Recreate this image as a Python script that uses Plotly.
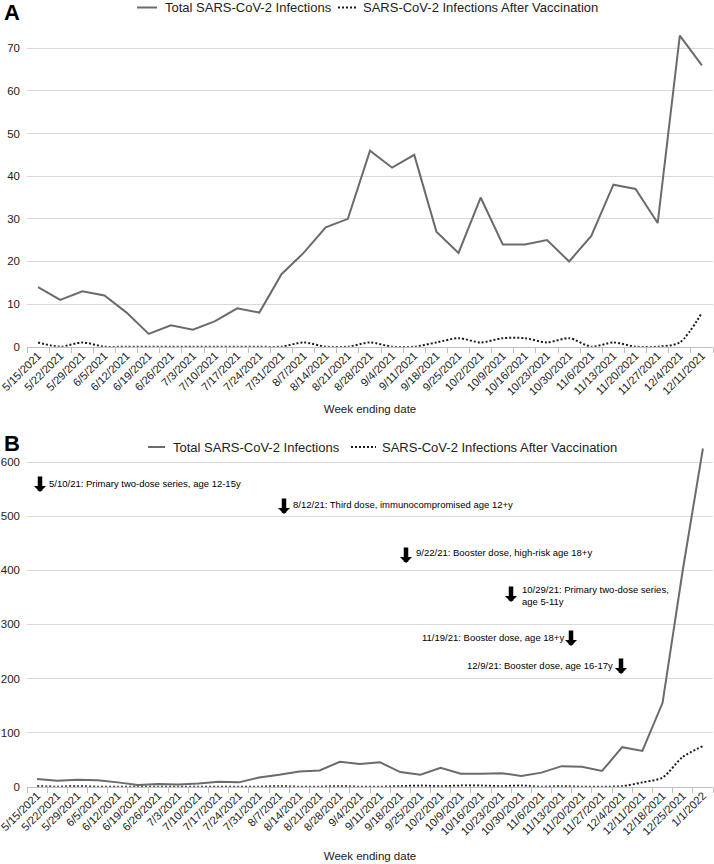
import plotly.graph_objects as go

# ---------------- data ----------------
weeks_a = ["5/15/2021", "5/22/2021", "5/29/2021", "6/5/2021", "6/12/2021", "6/19/2021",
           "6/26/2021", "7/3/2021", "7/10/2021", "7/17/2021", "7/24/2021", "7/31/2021",
           "8/7/2021", "8/14/2021", "8/21/2021", "8/28/2021", "9/4/2021", "9/11/2021",
           "9/18/2021", "9/25/2021", "10/2/2021", "10/9/2021", "10/16/2021", "10/23/2021",
           "10/30/2021", "11/6/2021", "11/13/2021", "11/20/2021", "11/27/2021", "12/4/2021",
           "12/11/2021"]
total_a = [14, 11, 13, 12, 8, 3, 5, 4, 6, 9, 8, 17, 22, 28, 30, 46, 42, 45, 27, 22, 35,
           24, 24, 25, 20, 26, 38, 37, 29, 73, 66]
vacc_a = [1, 0, 1, 0, 0, 0, 0, 0, 0, 0, 0, 0, 1, 0, 0, 1, 0, 0, 1, 2, 1, 2, 2, 1, 2,
          0, 1, 0, 0, 1, 8]

weeks_b = weeks_a + ["12/18/2021", "12/25/2021", "1/1/2022"]
total_b = total_a + [155, 400, 625]
vacc_b = vacc_a + [17, 55, 75]

series_names = ["Total SARS-CoV-2 Infections", "SARS-CoV-2 Infections After Vaccination"]

events = [
    "5/10/21: Primary two-dose series, age 12-15y",
    "8/12/21: Third dose, immunocompromised age 12+y",
    "9/22/21: Booster dose, high-risk age 18+y",
    "10/29/21: Primary two-dose series,<br>age 5-11y",
    "11/19/21: Booster dose, age 18+y",
    "12/9/21: Booster dose, age 16-17y",
]

# ---------------- figure ----------------
W, H = 714, 864
ML, MR = 27, 1
PW = W - ML - MR

def px_x(p):
    return (p - ML) / PW

def px_y(p):
    return 1 - p / H

FONT = "Liberation Sans, Arial, Helvetica, sans-serif"
TXT = "#222222"
GRID = "#d9d9d9"
AXL = "#bfbfbf"
TOTAL_C = "#6b6b6b"
VAC_C = "#1a1a1a"
DOT = "2px,2px"
styles = [dict(color=TOTAL_C, width=2), dict(color=VAC_C, width=2, dash=DOT)]

fig = go.Figure()

fig.add_trace(go.Scatter(x=weeks_a, y=total_a, mode="lines", name=series_names[0],
                         line=dict(color=TOTAL_C, width=2), xaxis="x", yaxis="y",
                         showlegend=False))
fig.add_trace(go.Scatter(x=weeks_a, y=vacc_a, mode="lines", name=series_names[1],
                         line=dict(color=VAC_C, width=2, dash=DOT, shape="spline", smoothing=0.8),
                         xaxis="x", yaxis="y", showlegend=False))
fig.add_trace(go.Scatter(x=weeks_b, y=total_b, mode="lines", name=series_names[0],
                         line=dict(color=TOTAL_C, width=2), xaxis="x2", yaxis="y2",
                         showlegend=False))
fig.add_trace(go.Scatter(x=weeks_b, y=vacc_b, mode="lines", name=series_names[1],
                         line=dict(color=VAC_C, width=2, dash=DOT, shape="spline", smoothing=0.8),
                         xaxis="x2", yaxis="y2", showlegend=False))

def xaxis_style(standoff):
    return dict(type="category", showgrid=False, showline=True, linecolor=AXL, linewidth=1,
                ticks="outside", ticklen=5, tickcolor=AXL, tickson="boundaries",
                tickangle=-45, tickfont=dict(size=11.2, color=TXT, family=FONT),
                ticklabelstandoff=-3, automargin=False, zeroline=False,
                title=dict(text="Week ending date", font=dict(size=11.5, color=TXT, family=FONT),
                           standoff=standoff))

ycommon = dict(showgrid=True, gridcolor=GRID, gridwidth=1, zeroline=False, showline=False,
               ticks="", tickfont=dict(size=11.5, color=TXT, family=FONT),
               ticklabelstandoff=6, automargin=False)

fig.update_layout(
    width=W, height=H,
    template="none",
    paper_bgcolor="white", plot_bgcolor="white",
    margin=dict(l=ML, r=MR, t=0, b=0),
    font=dict(family=FONT, color=TXT),
    showlegend=False,
    xaxis=dict(domain=[0, 1], anchor="y", range=[-0.5, len(weeks_a) - 0.5], **xaxis_style(8)),
    yaxis=dict(domain=[px_y(346.7), px_y(27)], anchor="x", range=[0, 75], dtick=10, **ycommon),
    xaxis2=dict(domain=[0, 1], anchor="y2", range=[-0.5, len(weeks_b) - 0.5], **xaxis_style(15)),
    yaxis2=dict(domain=[px_y(786.7), px_y(440.4)], anchor="x2", range=[0, 640], dtick=100, **ycommon),
)

annotations = []
shapes = []

# panel labels
annotations.append(dict(text="<b>A</b>", x=px_x(2), y=px_y(13), xref="paper", yref="paper",
                        xanchor="left", yanchor="middle", showarrow=False,
                        font=dict(size=22, color="black", family=FONT)))
annotations.append(dict(text="<b>B</b>", x=px_x(2), y=px_y(444), xref="paper", yref="paper",
                        xanchor="left", yanchor="middle", showarrow=False,
                        font=dict(size=22, color="black", family=FONT)))

# legends drawn as line samples + text: per panel (y px, [(x0, x1, text_x) per series])
legend_rows = [
    (7.5, [(137, 157, 163), (338, 357, 361)]),
    (447, [(148, 165, 171), (351, 376, 380)]),
]
for ly, items in legend_rows:
    for (x0, x1, tx), name, st in zip(items, series_names, styles):
        shapes.append(dict(type="line", xref="paper", yref="paper",
                           x0=px_x(x0), x1=px_x(x1), y0=px_y(ly), y1=px_y(ly), line=st))
        annotations.append(dict(text=name, x=px_x(tx), y=px_y(ly), xref="paper", yref="paper",
                                xanchor="left", yanchor="middle", showarrow=False,
                                font=dict(size=13, color=TXT, family=FONT)))

# vaccination event arrows: (arrow x px, arrow tip y px)
arrow_pos = [(40, 492), (284, 514), (406, 563), (511, 602), (571, 646), (621, 674)]
for ax_px, tip in arrow_pos:
    annotations.append(dict(text="", x=px_x(ax_px), y=px_y(tip), xref="paper", yref="paper",
                            showarrow=True, ax=0, ay=-17, arrowhead=1, arrowsize=0.45,
                            arrowwidth=4.5, arrowcolor="black", standoff=0, startstandoff=0))

# event texts: (x px, y px center, anchor)
text_pos = [(47, 483, "left"), (291, 504, "left"), (414, 552, "left"), (520, 595, "left"),
            (566, 637, "right"), (615, 665, "right")]
for t, (tx, ty, anc) in zip(events, text_pos):
    annotations.append(dict(text=t, x=px_x(tx), y=px_y(ty), xref="paper", yref="paper",
                            xanchor=anc, yanchor="middle", align="left", showarrow=False,
                            font=dict(size=9.5, color="black", family=FONT)))

fig.update_layout(annotations=annotations, shapes=shapes)

fig.write_html("out.html", config={"displayModeBar": False},
               post_script="document.body.style.margin='0px';document.body.style.overflow='hidden';")
